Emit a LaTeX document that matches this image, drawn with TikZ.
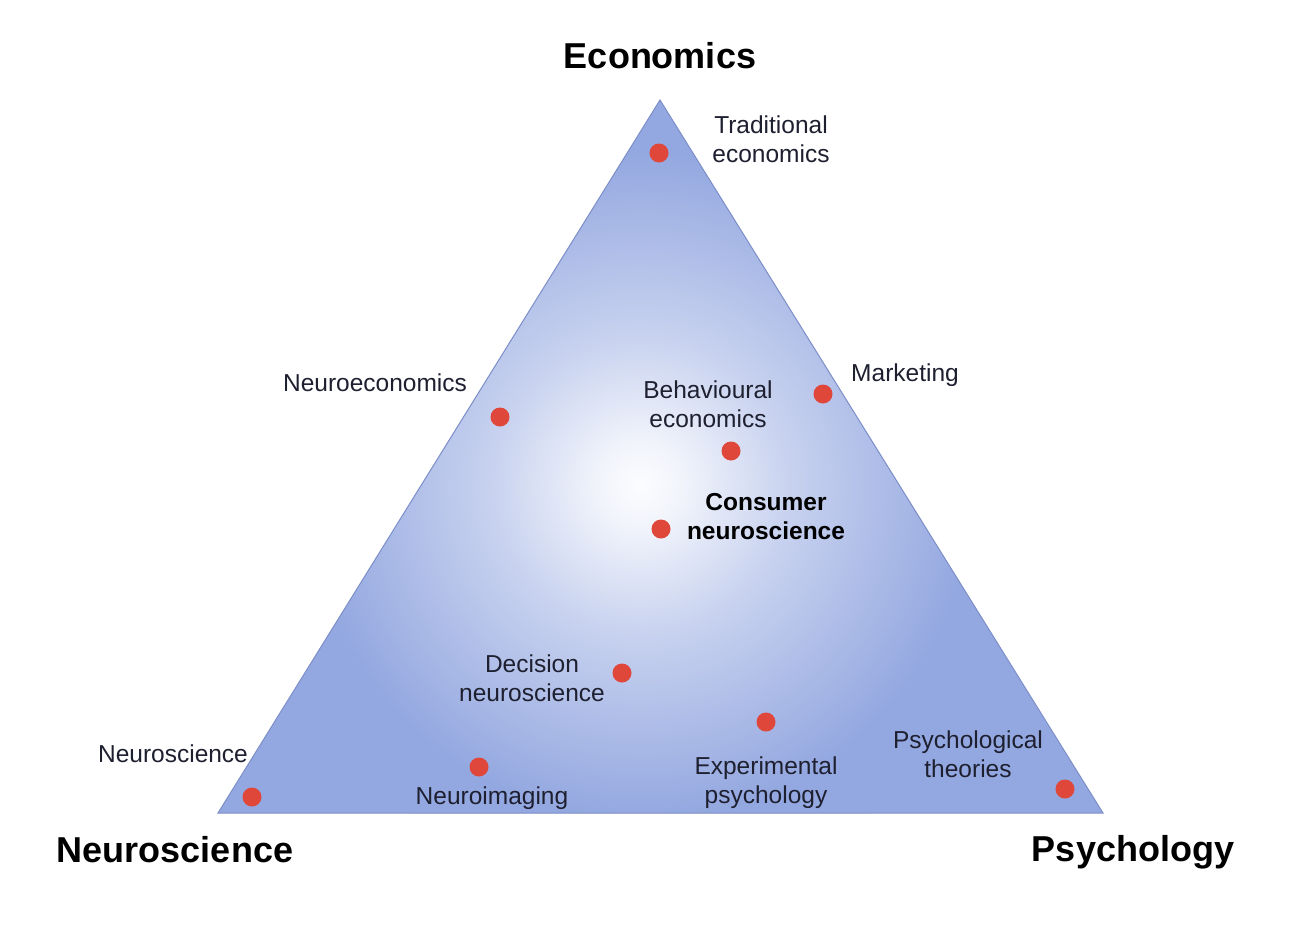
\documentclass[tikz,border=0pt]{standalone}
\usepackage{fontspec}
\setmainfont{Liberation Sans}
\definecolor{tblue}{HTML}{93A7E0}
\definecolor{tedge}{HTML}{7D8FC8}
\definecolor{dotred}{HTML}{E0473B}
\definecolor{txt}{HTML}{1E2030}
\pgfdeclareradialshading{glow}{\pgfpoint{0bp}{0bp}}{color(0bp)=(white!97!tblue); color(2.5bp)=(white!88!tblue); color(9.5bp)=(white!48!tblue); color(21bp)=(tblue); color(50bp)=(tblue)}
\begin{document}
\begin{tikzpicture}[x=1pt,y=-1pt,
  big/.style={font=\fontsize{36}{40}\selectfont\bfseries, text=black},
  lab/.style={font=\fontsize{24.5}{29}\selectfont, text=txt, align=center, inner sep=0pt},
  blab/.style={lab, font=\fontsize{24.5}{29}\selectfont\bfseries, text=black},
  pt/.style={circle, fill=dotred, minimum size=19pt, inner sep=0pt}]
\useasboundingbox (0,0) rectangle (1310,932);
\fill[white] (0,0) rectangle (1310,932);
\coordinate (T) at (660,100);
\coordinate (L) at (218,813);
\coordinate (R) at (1103,813);
\fill[tblue] (T) -- (L) -- (R) -- cycle;
\begin{scope}
\clip (T) -- (L) -- (R) -- cycle;
\shade[shading=glow] (640,485) circle (400);
\end{scope}
\draw[tedge, line width=1pt, line join=miter] (T) -- (L) -- (R) -- cycle;

\node[big] (econ) at (660,56) {Economics};
\node[big] (neuro) at (175,850) {Neuroscience};
\node[big] (psych) at (1133,852) {Psychology};

\node[pt] (d1) at (659,153) {};
\node[lab] (l1) at (771,139) {Traditional\\economics};
\node[pt] (d2) at (500,417) {};
\node[lab] (l2) at (375,383) {Neuroeconomics};
\node[pt] (d3) at (731,451) {};
\node[lab] (l3) at (708,404) {Behavioural\\economics};
\node[pt] (d4) at (823,394) {};
\node[lab] (l4) at (905,375) {Marketing};
\node[pt] (d5) at (661,529) {};
\node[blab] (l5) at (766,517) {Consumer\\neuroscience};
\node[pt] (d6) at (622,673) {};
\node[lab] (l6) at (532,678) {Decision\\neuroscience};
\node[pt] (d7) at (766,722) {};
\node[lab] (l7) at (766,783) {Experimental\\psychology};
\node[pt] (d8) at (1065,789) {};
\node[lab] (l8) at (968,754) {Psychological\\theories};
\node[pt] (d9) at (252,797) {};
\node[lab] (l9) at (173,754) {Neuroscience};
\node[pt] (d10) at (479,767) {};
\node[lab] (l10) at (492,798) {Neuroimaging};
\end{tikzpicture}
\end{document}
